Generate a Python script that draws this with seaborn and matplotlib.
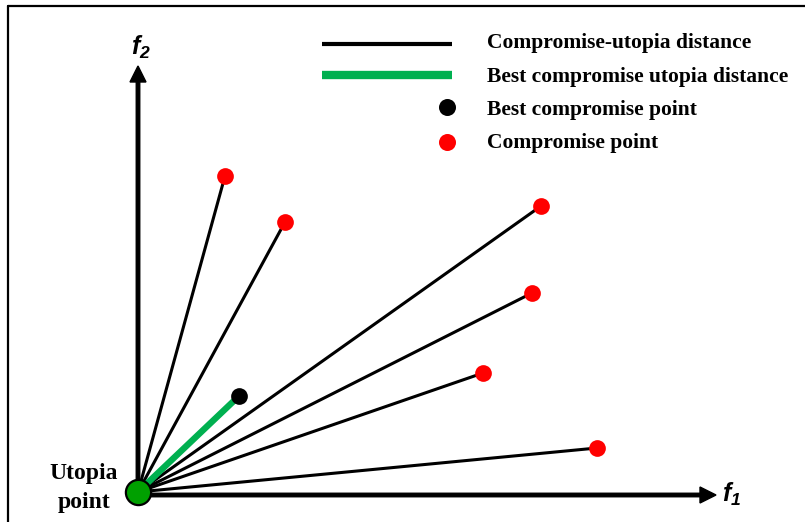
import matplotlib
matplotlib.use('Agg')
import matplotlib.pyplot as plt
from matplotlib.lines import Line2D
import seaborn as sns
import pandas as pd

# compromise points (f1, f2)
comp_f1 = [1.74, 2.94, 8.06, 7.88, 6.90, 9.18]
comp_f2 = [6.38, 5.46, 5.78, 4.04, 2.44, 0.94]
best_f1 = [2.02]
best_f2 = [1.98]
utopia = (0.0, 0.06)

legend_labels = ['Compromise-utopia distance', 'Best compromise utopia distance',
                 'Best compromise point', 'Compromise point']

sns.set_style('white')
plt.rcParams['text.color'] = 'black'
plt.rcParams['mathtext.fontset'] = 'custom'
plt.rcParams['mathtext.it'] = 'Liberation Sans:bold:italic'
plt.rcParams['mathtext.rm'] = 'Liberation Sans:bold:italic'

GREEN = '#00b050'
serif = dict(family='Liberation Serif', fontweight='bold', fontsize=15.5, color='black')

fig = plt.figure(figsize=(8.05, 5.22), dpi=100)
ax = fig.add_axes([0, 0, 1, 1])
ax.set_xlim(-2.76, 13.34)
ax.set_ylim(-0.54, 9.9)
ax.axis('off')

# frame (only top and left edges visible in the source)
fig.add_artist(Line2D([8 / 805, 8 / 805], [0, 1 - 6 / 522], color='black', lw=1.6))
fig.add_artist(Line2D([8 / 805, 1], [1 - 6 / 522, 1 - 6 / 522], color='black', lw=1.6))

# axes arrows
ax.arrow(0, 0, 0, 8.58, width=0.07, head_width=0.32, head_length=0.32,
         length_includes_head=True, color='black', zorder=2)
ax.arrow(0, 0, 11.56, 0, width=0.07, head_width=0.32, head_length=0.32,
         length_includes_head=True, color='black', zorder=2)
ax.text(0.06, 8.96, r'$f_2$', fontsize=18, ha='center', va='center')
ax.text(11.88, 0.02, r'$f_1$', fontsize=18, ha='center', va='center')

# rays from the utopia point
rays = pd.DataFrame({
    'f1': [v for x in comp_f1 for v in (utopia[0], x)],
    'f2': [v for y in comp_f2 for v in (utopia[1], y)],
    'ray': [i for i in range(len(comp_f1)) for _ in range(2)],
})
sns.lineplot(data=rays, x='f1', y='f2', units='ray', estimator=None, sort=False,
             color='black', lw=2.2, ax=ax, zorder=3)
ax.plot([utopia[0], best_f1[0]], [utopia[1], best_f2[0]], color=GREEN, lw=4.6,
        solid_capstyle='butt', zorder=3)

sns.scatterplot(x=comp_f1, y=comp_f2, color='red', s=145, linewidth=0, ax=ax, zorder=4)
sns.scatterplot(x=best_f1, y=best_f2, color='black', s=145, linewidth=0, ax=ax, zorder=4)
ax.scatter([utopia[0]], [utopia[1]], s=330, color='#00a000', edgecolor='black',
           linewidth=1.6, zorder=5)
ax.text(-1.08, 0.14, 'Utopia\npoint', ha='center', va='center', linespacing=1.5,
        **{**serif, 'fontsize': 17})

# hand-drawn legend
ax.plot([3.68, 6.28], [9.02, 9.02], color='black', lw=3, solid_capstyle='butt')
ax.plot([3.68, 6.28], [8.40, 8.40], color=GREEN, lw=6, solid_capstyle='butt')
ax.scatter([6.18], [7.76], s=150, color='black', linewidth=0)
ax.scatter([6.18], [7.06], s=150, color='red', linewidth=0)
for lab, y in zip(legend_labels, [9.04, 8.36, 7.70, 7.04]):
    ax.text(6.98, y, lab, ha='left', va='center', **serif)

fig.savefig('out.png', dpi=100)
